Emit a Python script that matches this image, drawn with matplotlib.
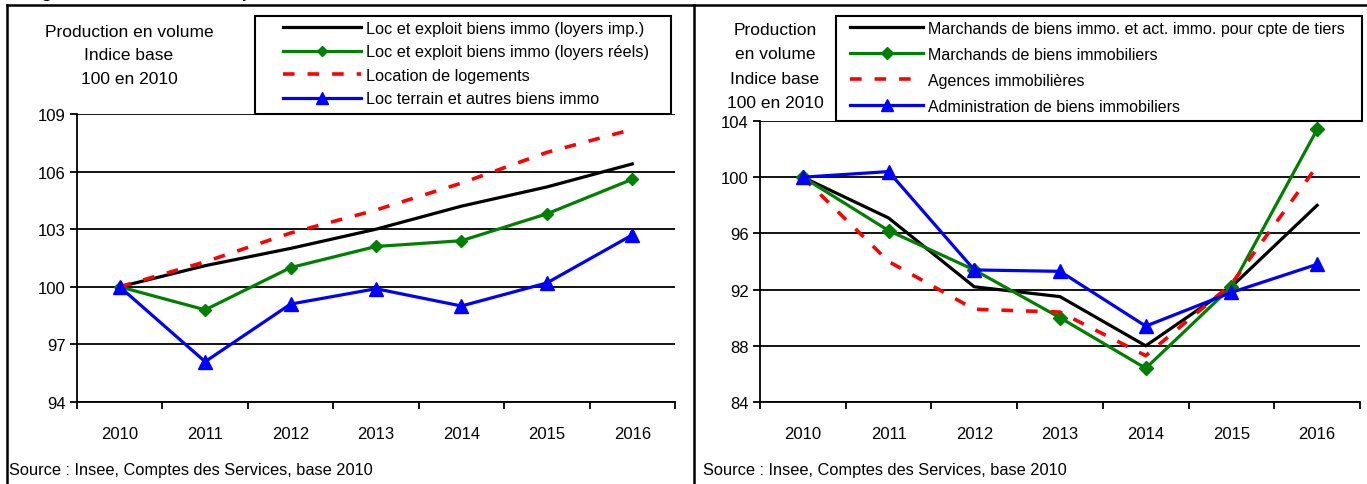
import numpy as np
import matplotlib.pyplot as plt
from matplotlib.lines import Line2D
from matplotlib.patches import Rectangle

plt.rcParams['font.family'] = ['Liberation Sans', 'DejaVu Sans']

years = ["2010", "2011", "2012", "2013", "2014", "2015", "2016"]

# Location / exploitation (indice base 100 en 2010)
loyers_imp = [100.0, 101.1, 102.0, 103.0, 104.2, 105.2, 106.4]
loyers_reels = [100.0, 98.8, 101.0, 102.1, 102.4, 103.8, 105.6]
location_logements = [100.0, 101.3, 102.8, 104.0, 105.4, 107.0, 108.2]
loc_terrain = [100.0, 96.1, 99.1, 99.9, 99.0, 100.2, 102.7]

# Marchands / agences / administration
marchands_tiers = [100.0, 97.1, 92.2, 91.5, 88.0, 92.2, 98.0]
marchands_biens = [100.0, 96.2, 93.4, 90.0, 86.4, 92.2, 103.4]
agences = [100.0, 94.0, 90.6, 90.4, 87.3, 92.4, 100.8]
administration = [100.0, 100.4, 93.4, 93.3, 89.4, 91.8, 93.8]

labels_left = ["Loc et exploit biens immo (loyers imp.)",
               "Loc et exploit biens immo (loyers réels)",
               "Location de logements",
               "Loc terrain et autres biens immo"]
labels_right = ["Marchands de biens immo. et act. immo. pour cpte de tiers",
                "Marchands de biens immobiliers",
                "Agences immobilières",
                "Administration de biens immobiliers"]

W, H = 1367, 485
fig = plt.figure(figsize=(W / 100, H / 100), dpi=100)


def px(x0, y0, x1, y1):
    return [x0 / W, 1 - y1 / H, (x1 - x0) / W, (y1 - y0) / H]


def draw_panel(ax, series, ylim, yticks, diamond_size):
    x = np.arange(len(years))
    black, green, red, blue = series
    ax.plot(x, black, color="black", lw=2.3)
    ax.plot(x, green, color="#008000", lw=2.3, marker="D", ms=diamond_size,
            mec="#008000")
    ax.plot(x, red, color="red", lw=2.6, linestyle=(0, (3.2, 3.6)))
    ax.plot(x, blue, color="blue", lw=2.3, marker="^", ms=10, mec="blue")
    ax.set_xlim(-0.5, len(years) - 0.5)
    ax.set_ylim(*ylim)
    ax.set_yticks(yticks)
    ax.grid(axis="y", color="black", lw=1.3)
    ax.set_axisbelow(True)
    ax.set_xticks(np.arange(len(years) + 1) - 0.5)
    ax.set_xticklabels([])
    ax.set_xticks(x, minor=True)
    ax.set_xticklabels(years, minor=True)
    ax.tick_params(axis="x", which="major", direction="out", length=5, width=1.3)
    ax.tick_params(axis="x", which="minor", length=0, pad=17, labelsize=12)
    ax.tick_params(axis="y", direction="out", length=5, width=1.3, pad=3,
                   labelsize=12)
    for s in ("top", "right"):
        ax.spines[s].set_visible(False)
    for s in ("left", "bottom"):
        ax.spines[s].set_linewidth(1.3)
    return ax.get_lines()


ax1 = fig.add_axes(px(77, 115, 675, 403))
lines1 = draw_panel(ax1, [loyers_imp, loyers_reels, location_logements, loc_terrain],
                    (94, 109), [94, 97, 100, 103, 106, 109], 6)
ax2 = fig.add_axes(px(760, 122, 1360, 403))
lines2 = draw_panel(ax2, [marchands_tiers, marchands_biens, agences, administration],
                    (84, 104), [84, 88, 92, 96, 100, 104], 7.5)

# legend boxes drawn separately, legend content placed inside them
for x0, y0, x1, y1 in [(255, 17, 671, 115), (836, 17, 1362, 122)]:
    fig.add_artist(Rectangle((x0 / W, 1 - y1 / H), (x1 - x0) / W, (y1 - y0) / H,
                             transform=fig.transFigure, fill=True, fc="white",
                             ec="black", lw=1.5, zorder=3))

leg_kw = dict(loc="upper left", borderaxespad=0, borderpad=0, frameon=False,
              markerscale=0.8, handletextpad=0.3)
l1 = fig.legend(lines1, labels_left, bbox_to_anchor=(283 / W, 1 - 22 / H),
                fontsize=11.7, handlelength=4.8, labelspacing=0.52, **leg_kw)
l2 = fig.legend(lines2, labels_right, bbox_to_anchor=(850 / W, 1 - 22 / H),
                fontsize=11.5, handlelength=4.6, labelspacing=0.68, **leg_kw)
l1.set_zorder(4)
l2.set_zorder(4)

fig.text(129 / W, 1 - 56 / H, "Production en volume\nIndice base\n100 en 2010",
         ha="center", va="center", fontsize=12.5, linespacing=1.7)
fig.text(775 / W, 1 - 67 / H, "Production\nen volume\nIndice base\n100 en 2010",
         ha="center", va="center", fontsize=12.5, linespacing=1.78)

fig.text(9 / W, 1 - 471 / H, "Source : Insee, Comptes des Services, base 2010",
         ha="left", va="center", fontsize=11.8)
fig.text(703 / W, 1 - 471 / H, "Source : Insee, Comptes des Services, base 2010",
         ha="left", va="center", fontsize=11.8)

# title sits above the frame, only its descenders reach the page
fig.text(26 / W, 1 + 2 / H, "Figure 3 – Évolution de la production de l'immobilier",
         ha="left", va="baseline", fontsize=12.5, fontweight="bold")

# panel frames
for xs, ys in [([7, W], [6, 6]), ([7, 7], [6, H]), ([694, 694], [6, H])]:
    fig.add_artist(Line2D([x / W for x in xs], [1 - y / H for y in ys],
                          color="black", lw=1.8, transform=fig.transFigure))

fig.savefig("out.png", dpi=100)
